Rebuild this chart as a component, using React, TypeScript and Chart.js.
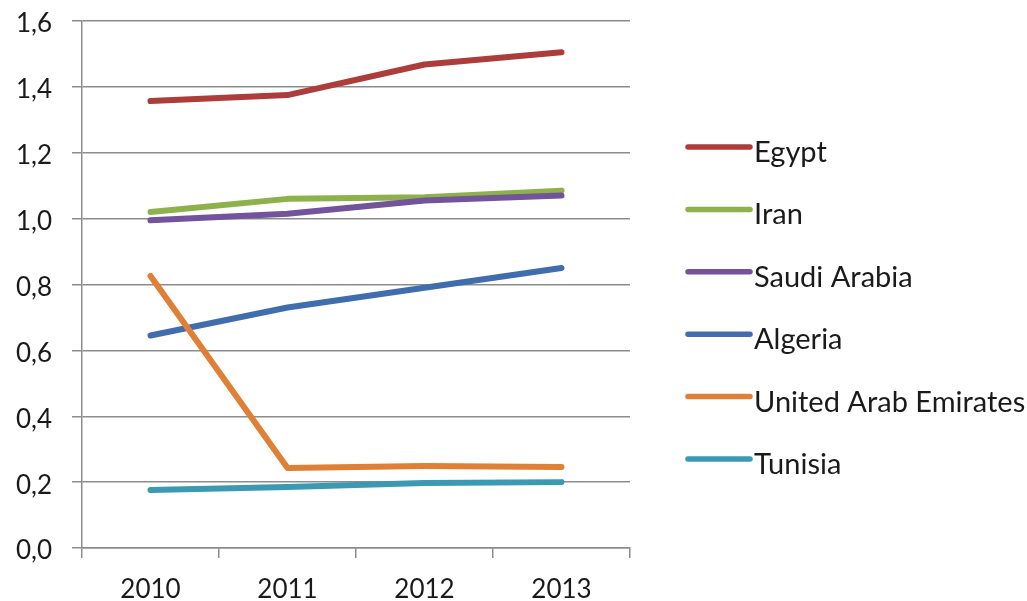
import React, { useEffect, useRef } from "react";
import { Chart, registerables } from "chart.js";

Chart.register(...registerables);

const categories = ["2010", "2011", "2012", "2013"];
const seriesNames = ["Egypt", "Iran", "Saudi Arabia", "Algeria", "United Arab Emirates", "Tunisia"];
const egypt = [1.357, 1.375, 1.468, 1.505];
const iran = [1.02, 1.06, 1.065, 1.085];
const saudiArabia = [0.995, 1.015, 1.055, 1.07];
const algeria = [0.645, 0.73, 0.79, 0.85];
const uae = [0.826, 0.243, 0.249, 0.246];
const tunisia = [0.176, 0.185, 0.197, 0.2];
const seriesValues = [egypt, iran, saudiArabia, algeria, uae, tunisia];
const seriesColors = ["#AD3D3B", "#8DB24B", "#73539B", "#3F6DAE", "#E07F36", "#3B99B1"];

const FONT = "Lato, 'Open Sans', sans-serif";

const legendPlugin = {
  id: "customLegend",
  afterDraw(chart: any) {
    const ctx = chart.ctx;
    ctx.save();
    seriesNames.forEach((name, i) => {
      const y = 147 + i * 62.4;
      ctx.strokeStyle = seriesColors[i];
      ctx.lineWidth = 5.5;
      ctx.lineCap = "round";
      ctx.beginPath();
      ctx.moveTo(688, y);
      ctx.lineTo(750, y);
      ctx.stroke();
      ctx.fillStyle = "#1a1a1a";
      ctx.font = `29px ${FONT}`;
      ctx.textAlign = "left";
      ctx.textBaseline = "alphabetic";
      ctx.fillText(name, 754, y + 15);
    });
    ctx.restore();
  },
};

export default function App() {
  const ref = useRef<HTMLCanvasElement>(null);
  useEffect(() => {
    if (!ref.current) return;
    const chart = new Chart(ref.current, {
      type: "line",
      data: {
        labels: categories,
        datasets: seriesNames.map((name, i) => ({
          label: name,
          data: seriesValues[i],
          borderColor: seriesColors[i],
          backgroundColor: seriesColors[i],
          borderWidth: 6,
          borderCapStyle: "round",
          borderJoinStyle: "round",
          pointRadius: 0,
          tension: 0,
          fill: false,
          order: seriesNames.length - i,
        })),
      },
      options: {
        animation: false,
        responsive: false,
        devicePixelRatio: 1,
        layout: { padding: { top: 21, right: 397, left: 0, bottom: 0 } },
        plugins: { legend: { display: false }, tooltip: { enabled: false } },
        scales: {
          x: {
            offset: true,
            grid: {
              offset: true,
              drawOnChartArea: false,
              color: "#8c8c8c",
              lineWidth: 1.5,
              tickLength: 10,
            },
            border: { color: "#8c8c8c", width: 1.5 },
            ticks: { color: "#1a1a1a", font: { family: FONT, size: 26 }, padding: 16 },
            afterFit: (s: any) => {
              s.height = 53;
              s.paddingLeft = 0;
              s.paddingRight = 0;
            },
          },
          y: {
            min: 0,
            max: 1.6,
            ticks: {
              stepSize: 0.2,
              color: "#1a1a1a",
              font: { family: FONT, size: 26 },
              padding: 20,
              labelOffset: 3,
              callback: (v: any) => Number(v).toFixed(1).replace(".", ","),
            },
            grid: { color: "#8c8c8c", lineWidth: 1.5, tickLength: 10 },
            border: { color: "#8c8c8c", width: 1.5 },
            afterFit: (s: any) => {
              s.width = 82;
              s.paddingTop = 0;
              s.paddingBottom = 0;
            },
          },
        },
      },
      plugins: [legendPlugin],
    } as any);
    return () => chart.destroy();
  }, []);
  return (
    <div style={{ position: "fixed", left: 0, top: 0, width: 1027, height: 601, background: "#fff" }}>
      <canvas ref={ref} width={1027} height={601} style={{ width: 1027, height: 601, display: "block" }} />
    </div>
  );
}
